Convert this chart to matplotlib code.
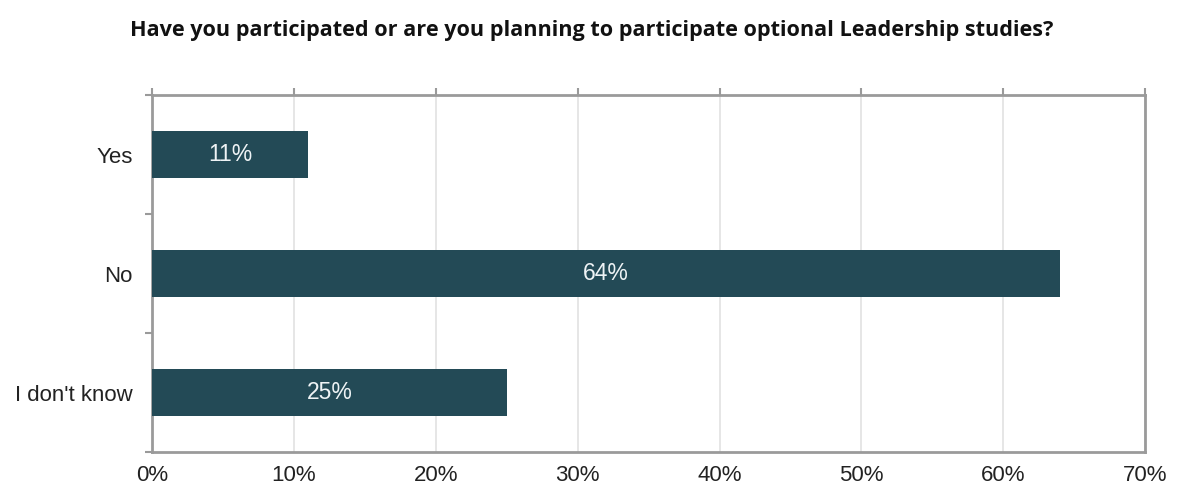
import matplotlib.pyplot as plt
import numpy as np

# Data
categories = ['Yes', 'No', "I don't know"]
values = [11, 64, 25]
xticks = [0, 10, 20, 30, 40, 50, 60, 70]
title = 'Have you participated or are you planning to participate optional Leadership studies?'

bar_color = '#234a56'
spine_color = '#9a9a9a'

fig = plt.figure(figsize=(11.83, 4.91), dpi=100)
ax = fig.add_axes([0.1285, 0.0794, 0.8395, 0.7271])

y = np.arange(len(categories))
ax.barh(y, values, height=0.4, color=bar_color, zorder=3)

# value labels inside the bars
for yi, v in zip(y, values):
    ax.text(v / 2, yi, f'{v}%', ha='center', va='center', color='#eef3f5',
            fontsize=16.5, family='Liberation Sans', zorder=4)

ax.set_xlim(0, 70)
ax.set_ylim(len(categories) - 0.5, -0.5)

ax.set_xticks(xticks)
ax.set_xticklabels([f'{t}%' for t in xticks], family='Liberation Sans', fontsize=16, color='#222222')
ax.tick_params(axis='x', top=True, bottom=False, labeltop=False, labelbottom=True,
               direction='out', length=5, width=1.5, color=spine_color, pad=4)

ax.set_yticks(y)
ax.set_yticklabels(categories, family='Liberation Sans', fontsize=16, color='#222222')
ax.tick_params(axis='y', which='major', length=0, pad=14)
ax.set_yticks(np.arange(-0.5, len(categories)), minor=True)
ax.tick_params(axis='y', which='minor', length=5, width=1.5, color=spine_color, direction='out')

ax.grid(axis='x', color='#e2e2e2', linewidth=1.2, zorder=0)
ax.set_axisbelow(True)

for s in ax.spines.values():
    s.set_color(spine_color)
    s.set_linewidth(2)

fig.text(0.5, 0.938, title, ha='center', va='center', fontsize=15.6,
         fontweight='bold', family='Open Sans', color='#111111')

fig.savefig('out.png', dpi=100)
